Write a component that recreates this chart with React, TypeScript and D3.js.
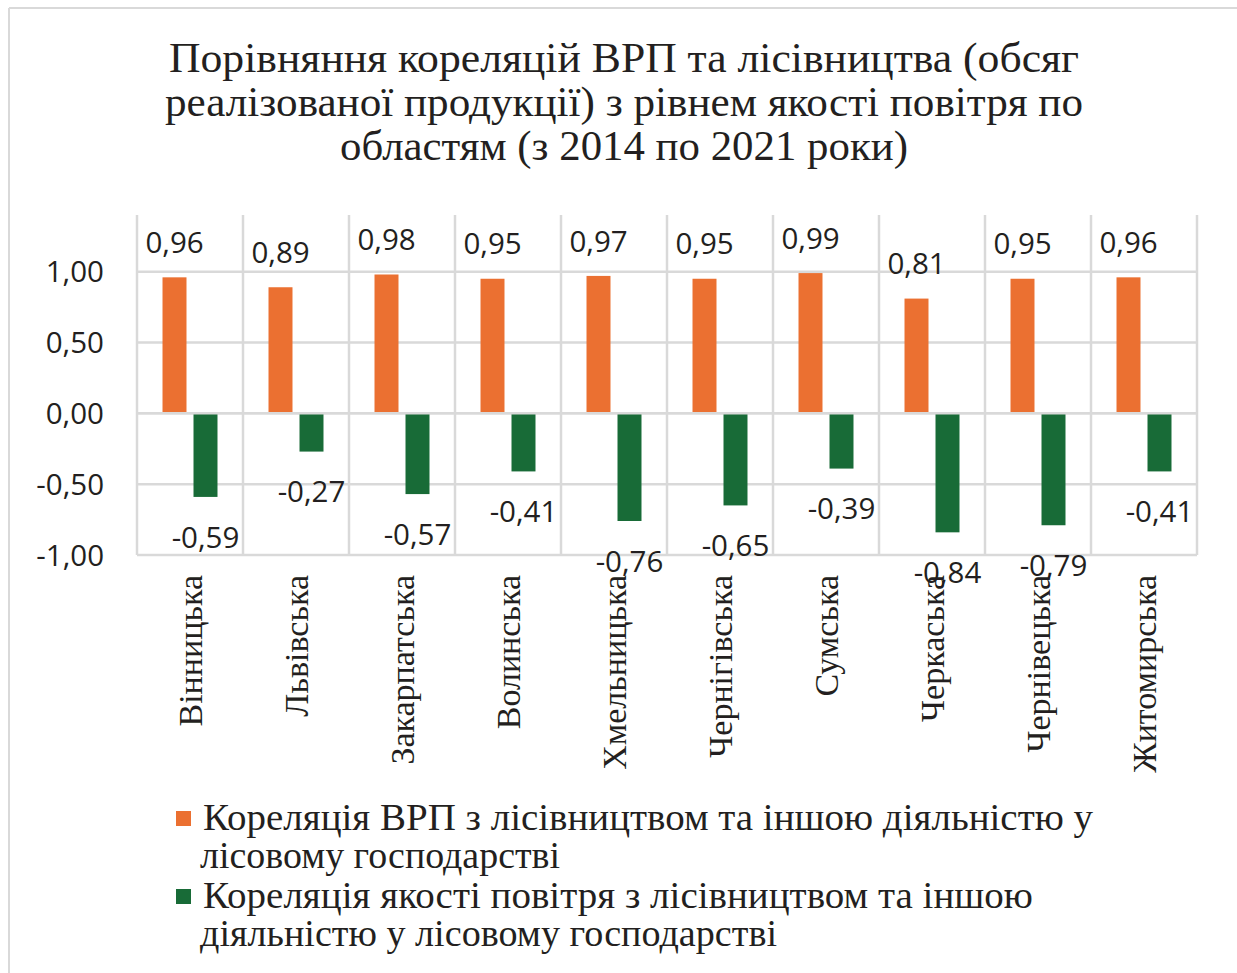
import * as d3 from "d3";
import React from "react";

// regions (oblasts)
const regions = [
  "Вінницька",
  "Львівська",
  "Закарпатська",
  "Волинська",
  "Хмельницька",
  "Чернігівська",
  "Сумська",
  "Черкаська",
  "Чернівецька",
  "Житомирська",
];

// correlation GRP vs forestry
const grpCorr = [0.96, 0.89, 0.98, 0.95, 0.97, 0.95, 0.99, 0.81, 0.95, 0.96];
// correlation air quality vs forestry
const airCorr = [-0.59, -0.27, -0.57, -0.41, -0.76, -0.65, -0.39, -0.84, -0.79, -0.41];

const yTicks = [-1, -0.5, 0, 0.5, 1];

const titleLines = [
  "Порівняння кореляцій ВРП та лісівництва (обсяг",
  "реалізованої продукції) з рівнем якості повітря по",
  "областям (з 2014 по 2021 роки)",
];
// widths of the title lines as they appear in the source
const titleWidths = [910, 918, 568];

const legendItems = [
  {
    key: "grp",
    color: "#EB7031",
    lines: ["Кореляція ВРП з лісівництвом та іншою діяльністю у", "лісовому господарстві"],
    widths: [890, 360],
  },
  {
    key: "air",
    color: "#186B37",
    lines: ["Кореляція якості повітря з лісівництвом та іншою", "діяльністю у лісовому господарстві"],
    widths: [830, 577],
  },
];

const W = 1237;
const H = 973;
const serif = "'Liberation Serif', 'Times New Roman', serif";
const sans = "'Open Sans', 'Noto Sans', sans-serif";
const grid = "#d9d9d9";

export default function App() {
  const left = 137;
  const right = 1197;
  const top = 215;
  const bottom = 555;

  const x0 = d3.scaleBand<string>().domain(regions).range([left, right]);
  const x1 = d3
    .scaleBand<string>()
    .domain(["grp", "air"])
    .range([0, x0.bandwidth()])
    .paddingInner(0.226)
    .paddingOuter(0.823);
  const y = d3.scaleLinear().domain([-1, 1.4]).range([bottom, top]);
  const fmt = (v: number) => d3.format(".2f")(v).replace(".", ",").replace("−", "-");

  return (
    <svg
      width={W}
      height={H}
      style={{ position: "absolute", left: 0, top: 0, background: "#fff" }}
    >
      {/* outer frame (top + left edges visible) */}
      <line x1={9} x2={W} y1={8} y2={8} stroke={grid} strokeWidth={2} />
      <line x1={9} x2={9} y1={8} y2={H} stroke={grid} strokeWidth={2} />

      {/* title */}
      <g fontFamily={serif} fontSize={43} fill="#231f20" textAnchor="middle">
        {titleLines.map((t, i) => (
          <text
            key={i}
            x={624}
            y={72 + i * 44}
            textLength={titleWidths[i]}
            lengthAdjust="spacingAndGlyphs"
          >
            {t}
          </text>
        ))}
      </g>

      {/* horizontal gridlines */}
      {yTicks.map((t) => (
        <line
          key={t}
          x1={left}
          x2={right}
          y1={y(t)}
          y2={y(t)}
          stroke={grid}
          strokeWidth={2.5}
        />
      ))}
      {/* vertical gridlines at category boundaries */}
      {regions.map((r) => (
        <line
          key={r}
          x1={x0(r)}
          x2={x0(r)}
          y1={top}
          y2={bottom}
          stroke={grid}
          strokeWidth={2.5}
        />
      ))}
      <line x1={right} x2={right} y1={top} y2={bottom} stroke={grid} strokeWidth={2.5} />

      {/* y axis labels */}
      <g fontFamily={sans} fontSize={29.5} fill="#231f20" textAnchor="end">
        {yTicks.map((t) => (
          <text key={t} x={104} y={y(t)} dy="0.36em">
            {fmt(t)}
          </text>
        ))}
      </g>

      {/* bars */}
      {regions.map((r, i) => (
        <g key={r} transform={`translate(${x0(r)},0)`}>
          <rect
            x={x1("grp")}
            width={x1.bandwidth()}
            y={y(grpCorr[i])}
            height={y(0) - y(grpCorr[i])}
            fill="#EB7031"
          />
          <rect
            x={x1("air")}
            width={x1.bandwidth()}
            y={y(0)}
            height={y(airCorr[i]) - y(0)}
            fill="#186B37"
          />
        </g>
      ))}
      <line x1={left} x2={right} y1={y(0)} y2={y(0)} stroke={grid} strokeWidth={2.5} />

      {/* value labels */}
      <g fontFamily={sans} fontSize={29.5} fill="#231f20" textAnchor="middle">
        {regions.map((r, i) => (
          <React.Fragment key={r}>
            <text
              x={(x0(r) ?? 0) + (x1("grp") ?? 0) + x1.bandwidth() / 2}
              y={y(grpCorr[i]) - 35}
              dy="0.36em"
            >
              {fmt(grpCorr[i])}
            </text>
            <text
              x={(x0(r) ?? 0) + (x1("air") ?? 0) + x1.bandwidth() / 2}
              y={y(airCorr[i]) + 40}
              dy="0.36em"
            >
              {fmt(airCorr[i])}
            </text>
          </React.Fragment>
        ))}
      </g>

      {/* category labels */}
      <g fontFamily={serif} fontSize={34} fill="#231f20" textAnchor="end">
        {regions.map((r) => {
          const cx = (x0(r) ?? 0) + x0.bandwidth() / 2 + 12;
          return (
            <text key={r} transform={`translate(${cx},575) rotate(-90)`}>
              {r}
            </text>
          );
        })}
      </g>

      {/* legend */}
      <g fontFamily={serif} fontSize={38} fill="#231f20">
        {legendItems.map((it, i) => {
          const base = 830 + i * 78;
          return (
            <g key={it.key}>
              <rect x={176} y={base - 19} width={15} height={15} fill={it.color} />
              <text x={203} y={base} textLength={it.widths[0]} lengthAdjust="spacingAndGlyphs">
                {it.lines[0]}
              </text>
              <text
                x={200}
                y={base + 38}
                textLength={it.widths[1]}
                lengthAdjust="spacingAndGlyphs"
              >
                {it.lines[1]}
              </text>
            </g>
          );
        })}
      </g>
    </svg>
  );
}
